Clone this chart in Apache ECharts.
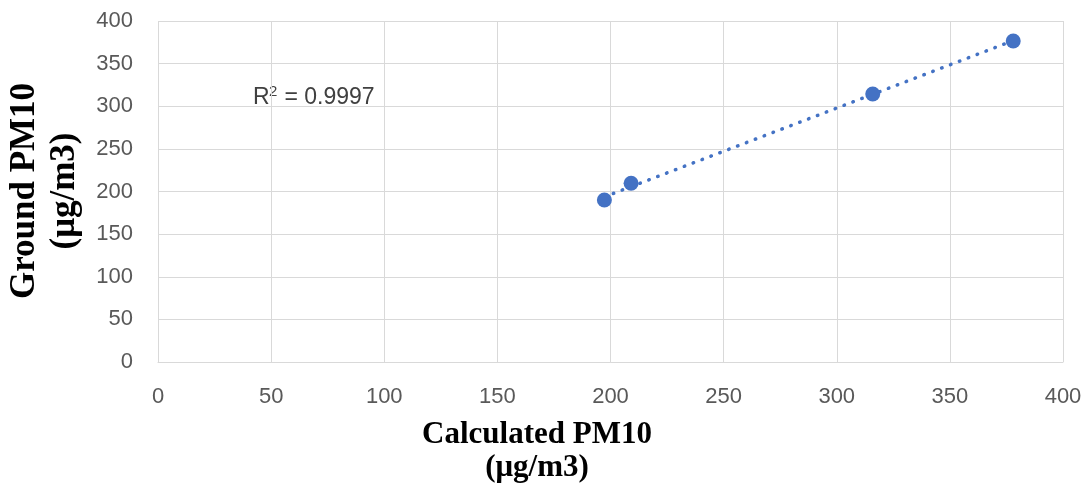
<!DOCTYPE html>
<html><head><meta charset="utf-8">
<script src="https://cdn.jsdelivr.net/npm/echarts@6/dist/echarts.min.js"></script>
<style>html,body{margin:0;padding:0;background:#fff}#c{width:1092px;height:490px}</style>
</head><body><div id="c"></div>
<script>
const calculatedPM10 = [197.3, 209.1, 315.9, 378.0];
const groundPM10 = [190.0, 209.6, 314.4, 376.5];
const axisTicks = [0, 50, 100, 150, 200, 250, 300, 350, 400];
const xTitle = ['Calculated PM10', '(μg/m3)'];
const yTitle = ['Ground PM10', '(μg/m3)'];
const r2Parts = ['R', '2', ' = 0.9997'];

const pts = calculatedPM10.map((x, i) => [x, groundPM10[i]]);
const n = pts.length;
const mx = calculatedPM10.reduce((a, b) => a + b, 0) / n;
const my = groundPM10.reduce((a, b) => a + b, 0) / n;
let sxy = 0, sxx = 0;
pts.forEach(([x, y]) => { sxy += (x - mx) * (y - my); sxx += (x - mx) * (x - mx); });
const slope = sxy / sxx, icpt = my - slope * mx;
const xMin = Math.min(...calculatedPM10), xMax = Math.max(...calculatedPM10);
const trend = [[xMin, icpt + slope * xMin], [xMax, icpt + slope * xMax]];

const chart = echarts.init(document.getElementById('c'), null, {renderer: 'canvas'});
const tickFont = {fontFamily: 'Liberation Sans', fontSize: 22, color: '#595959'};
const xTitleFont = 'bold 31px "Liberation Serif"';
const yTitleFont = 'bold 35px "Liberation Serif"';
const r2Font = '23px "Liberation Sans"';
chart.setOption({
  animation: false,
  grid: {left: 158, right: 29, top: 21, bottom: 128},
  xAxis: {
    type: 'value', min: axisTicks[0], max: axisTicks[axisTicks.length - 1], interval: 50,
    axisLine: {show: true, lineStyle: {color: '#d9d9d9', width: 1}},
    axisTick: {show: false},
    splitLine: {show: true, lineStyle: {color: '#d9d9d9', width: 1}},
    axisLabel: Object.assign({margin: 24}, tickFont)
  },
  yAxis: {
    type: 'value', min: axisTicks[0], max: axisTicks[axisTicks.length - 1], interval: 50,
    axisLine: {show: false},
    axisTick: {show: false},
    splitLine: {show: true, lineStyle: {color: '#d9d9d9', width: 1}},
    axisLabel: Object.assign({margin: 25}, tickFont)
  },
  series: [
    {
      type: 'line', data: trend, symbol: 'none', silent: true,
      lineStyle: {color: '#4472C4', width: 3.5, type: [0.5, 9], cap: 'round'},
      z: 2
    },
    {
      type: 'scatter', data: pts, symbol: 'circle', symbolSize: 15,
      itemStyle: {color: '#4472C4', opacity: 1}, z: 3
    }
  ],
  graphic: [
    {type: 'text', x: 253, y: 98, style: {text: r2Parts[0], font: r2Font, fill: '#404040', verticalAlign: 'middle'}},
    {type: 'text', x: 269, y: 92, style: {text: r2Parts[1], font: '15px "Liberation Sans"', fill: '#404040', verticalAlign: 'middle'}},
    {type: 'text', x: 278, y: 98, style: {text: r2Parts[2], font: r2Font, fill: '#404040', verticalAlign: 'middle'}},
    {type: 'text', x: 537, y: 435, style: {text: xTitle[0], font: xTitleFont, fill: '#000', align: 'center', verticalAlign: 'middle'}},
    {type: 'text', x: 537, y: 468, style: {text: xTitle[1], font: xTitleFont, fill: '#000', align: 'center', verticalAlign: 'middle'}},
    {type: 'text', x: 25, y: 191, rotation: Math.PI / 2, style: {text: yTitle[0], font: yTitleFont, fill: '#000', align: 'center', verticalAlign: 'middle'}},
    {type: 'text', x: 65, y: 191, rotation: Math.PI / 2, style: {text: yTitle[1], font: yTitleFont, fill: '#000', align: 'center', verticalAlign: 'middle'}}
  ]
});
</script></body></html>
